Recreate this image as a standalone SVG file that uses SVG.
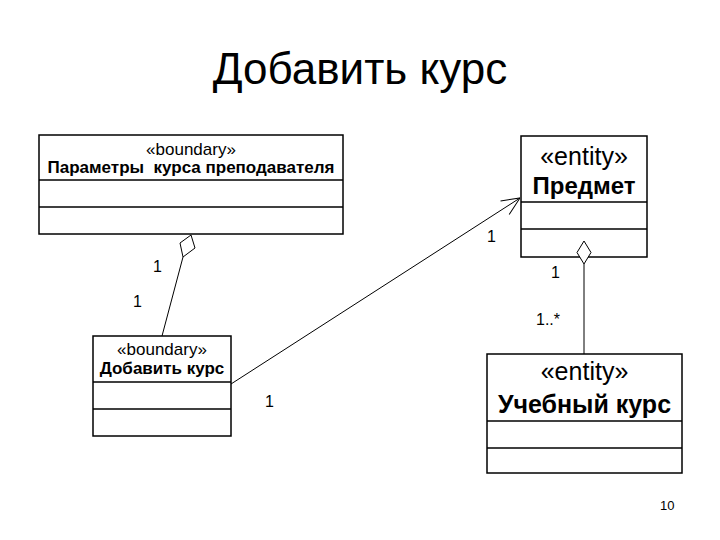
<svg xmlns="http://www.w3.org/2000/svg" width="720" height="540" viewBox="0 0 720 540">
<style>
.box{fill:#fff;stroke:#000;stroke-width:1.5}
.div{stroke:#000;stroke-width:1.5}
.t{font-family:"Liberation Sans",Arial,sans-serif;fill:#000;text-anchor:middle}
.b{font-weight:bold}
.ln{stroke:#000;stroke-width:1;fill:none}
.dia{fill:#fff;stroke:#000;stroke-width:1}
.m{font-family:"Liberation Sans",Arial,sans-serif;font-size:16px;fill:#000}
</style>
<defs>
<marker id="open" viewBox="0 0 20 20" refX="20" refY="10" markerWidth="20" markerHeight="20" markerUnits="userSpaceOnUse" orient="auto">
<path d="M2,2 L20,10 L2,18" fill="none" stroke="#000" stroke-width="1"/>
</marker>
</defs>
<rect width="720" height="540" fill="#fff"/>
<text class="t" x="360" y="84" font-size="44">Добавить курс</text>

<g id="params">
<rect class="box" x="39" y="135" width="304" height="99"/>
<line class="div" x1="39" y1="180" x2="343" y2="180"/>
<line class="div" x1="39" y1="207" x2="343" y2="207"/>
<text class="t" x="191" y="155" font-size="17">«boundary»</text>
<text class="t b" x="191" y="173" font-size="17" xml:space="preserve">Параметры  курса преподавателя</text>
</g>

<g id="subject">
<rect class="box" x="521" y="136" width="126" height="121"/>
<line class="div" x1="521" y1="202" x2="647" y2="202"/>
<line class="div" x1="521" y1="229" x2="647" y2="229"/>
<text class="t" x="584" y="165" font-size="25">«entity»</text>
<text class="t b" x="584" y="194" font-size="24">Предмет</text>
</g>

<g id="addcourse">
<rect class="box" x="93" y="336" width="138" height="100"/>
<line class="div" x1="93" y1="382" x2="231" y2="382"/>
<line class="div" x1="93" y1="409" x2="231" y2="409"/>
<text class="t" x="162" y="355" font-size="17">«boundary»</text>
<text class="t b" x="162" y="374" font-size="17">Добавить курс</text>
</g>

<g id="course">
<rect class="box" x="487" y="354" width="195" height="119"/>
<line class="div" x1="487" y1="421" x2="682" y2="421"/>
<line class="div" x1="487" y1="448" x2="682" y2="448"/>
<text class="t" x="584.5" y="380" font-size="25">«entity»</text>
<text class="t b" x="584.5" y="413" font-size="25">Учебный курс</text>
</g>

<g id="connectors">
<line class="ln" x1="183" y1="257" x2="162" y2="336"/>
<polygon class="dia" points="191,235 195,248 183,257 180,243"/>
<line class="ln" x1="231" y1="384" x2="520" y2="198" marker-end="url(#open)"/>
<line class="ln" x1="584" y1="264" x2="584" y2="354"/>
<polygon class="dia" points="584,241 591,252.5 584,264 577,252.5"/>
<text class="m" x="153" y="272">1</text>
<text class="m" x="133" y="307">1</text>
<text class="m" x="487" y="242">1</text>
<text class="m" x="265" y="407">1</text>
<text class="m" x="551" y="278">1</text>
<text class="m" x="536" y="325">1..*</text>
</g>

<text class="m" x="660" y="510" style="font-size:13px">10</text>
</svg>
